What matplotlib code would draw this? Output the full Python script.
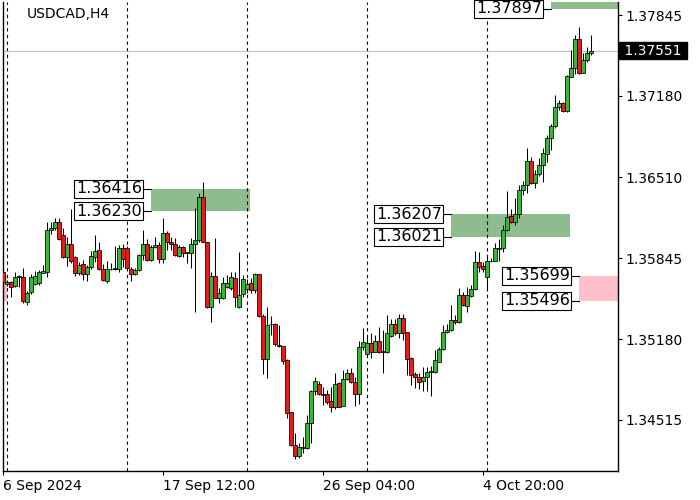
import matplotlib as mpl
mpl.use('Agg')
import matplotlib.pyplot as plt
import numpy as np

plt.rcParams['font.family'] = ['DejaVu Sans']

symbol = 'USDCAD,H4'

# H4 candles, one per bar
opens = [1.35732, 1.35633, 1.35647, 1.35614, 1.35691, 1.35691, 1.35485, 1.35565, 1.35635, 1.35644,
         1.35726, 1.35729, 1.36074, 1.36093, 1.36139, 1.36036, 1.35851, 1.35962, 1.35851, 1.35723,
         1.35801, 1.35715, 1.35773, 1.35859, 1.35910, 1.35759, 1.35658, 1.35760, 1.35760, 1.35760,
         1.35929, 1.35929, 1.35760, 1.35715, 1.35744, 1.35871, 1.35958, 1.35830, 1.35935, 1.35954,
         1.35836, 1.36050, 1.35981, 1.35959, 1.35863, 1.35940, 1.35890, 1.35890, 1.35959, 1.35995,
         1.36351, 1.35976, 1.35446, 1.35696, 1.35520, 1.35515, 1.35606, 1.35603, 1.35680, 1.35446,
         1.35551, 1.35589, 1.35639, 1.35580, 1.35715, 1.35372, 1.35014, 1.35300, 1.35302, 1.35131,
         1.35123, 1.35006, 1.34578, 1.34309, 1.34221, 1.34285, 1.34282, 1.34488, 1.34753, 1.34808,
         1.34726, 1.34726, 1.34671, 1.34624, 1.34816, 1.34632, 1.34852, 1.34899, 1.34830, 1.34726,
         1.35113, 1.35055, 1.35145, 1.35076, 1.35164, 1.35080, 1.35071, 1.35208, 1.35300, 1.35228,
         1.35357, 1.35236, 1.35022, 1.34891, 1.34871, 1.34835, 1.34871, 1.34907, 1.34907, 1.34994,
         1.35099, 1.35241, 1.35252, 1.35337, 1.35318, 1.35542, 1.35455, 1.35537, 1.35592, 1.35811,
         1.35781, 1.35688, 1.35818, 1.35825, 1.35921, 1.35926, 1.36077, 1.36195, 1.36140, 1.36206,
         1.36406, 1.36447, 1.36644, 1.36461, 1.36535, 1.36611, 1.36699, 1.36831, 1.36932, 1.37086,
         1.37119, 1.37058, 1.37337, 1.37406, 1.37645, 1.37370, 1.37475, 1.37530]
highs = [1.35773, 1.35666, 1.35654, 1.35729, 1.35707, 1.35764, 1.35575, 1.35718, 1.35740, 1.35748,
         1.35789, 1.36145, 1.36143, 1.36176, 1.36172, 1.36093, 1.36019, 1.36250, 1.35863, 1.35814,
         1.35830, 1.35789, 1.35904, 1.36032, 1.35981, 1.35797, 1.35826, 1.35806, 1.35945, 1.35954,
         1.35962, 1.35945, 1.35773, 1.35764, 1.35880, 1.36077, 1.36003, 1.35954, 1.36019, 1.35981,
         1.36172, 1.36065, 1.36019, 1.36011, 1.35954, 1.35945, 1.35899, 1.36009, 1.36254, 1.36379,
         1.36474, 1.35981, 1.35732, 1.36009, 1.35598, 1.35693, 1.35707, 1.35729, 1.35734, 1.35894,
         1.35707, 1.35674, 1.35682, 1.35723, 1.35719, 1.35390, 1.35444, 1.35370, 1.35312, 1.35296,
         1.35127, 1.35014, 1.34583, 1.34408, 1.34323, 1.34375, 1.34556, 1.34761, 1.34866, 1.34838,
         1.34786, 1.34761, 1.34784, 1.34899, 1.34830, 1.34926, 1.34932, 1.34940, 1.34871, 1.35160,
         1.35269, 1.35197, 1.35228, 1.35214, 1.35282, 1.35255, 1.35382, 1.35341, 1.35349, 1.35390,
         1.35390, 1.35241, 1.35029, 1.34912, 1.34897, 1.34951, 1.34951, 1.34959, 1.35090, 1.35117,
         1.35296, 1.35302, 1.35460, 1.35378, 1.35603, 1.35570, 1.35611, 1.35625, 1.35904, 1.35899,
         1.35814, 1.35871, 1.35847, 1.35970, 1.36007, 1.36118, 1.36400, 1.36250, 1.36338, 1.36447,
         1.36480, 1.36749, 1.36680, 1.36570, 1.36667, 1.36749, 1.36858, 1.36949, 1.37187, 1.37146,
         1.37132, 1.37351, 1.37557, 1.37680, 1.37749, 1.37530, 1.37584, 1.37680]
lows = [1.35584, 1.35616, 1.35526, 1.35608, 1.35608, 1.35473, 1.35460, 1.35553, 1.35625, 1.35625,
        1.35721, 1.35693, 1.36044, 1.36077, 1.35995, 1.35843, 1.35781, 1.35806, 1.35699, 1.35707,
        1.35666, 1.35658, 1.35756, 1.35814, 1.35752, 1.35658, 1.35641, 1.35748, 1.35748, 1.35732,
        1.35773, 1.35756, 1.35658, 1.35707, 1.35736, 1.35830, 1.35822, 1.35822, 1.35925, 1.35806,
        1.35806, 1.35913, 1.35913, 1.35863, 1.35851, 1.35857, 1.35806, 1.35764, 1.35403, 1.35981,
        1.35978, 1.35433, 1.35323, 1.35514, 1.35477, 1.35510, 1.35598, 1.35584, 1.35446, 1.35438,
        1.35529, 1.35561, 1.35561, 1.35559, 1.35364, 1.34893, 1.34860, 1.35210, 1.35123, 1.35115,
        1.34975, 1.34531, 1.34304, 1.34190, 1.34202, 1.34243, 1.34276, 1.34326, 1.34720, 1.34720,
        1.34638, 1.34646, 1.34581, 1.34605, 1.34622, 1.34630, 1.34844, 1.34816, 1.34632, 1.34646,
        1.35090, 1.35049, 1.35027, 1.35071, 1.35063, 1.34901, 1.35063, 1.35197, 1.35214, 1.35189,
        1.35173, 1.34885, 1.34803, 1.34778, 1.34770, 1.34753, 1.34753, 1.34712, 1.34899, 1.34989,
        1.35090, 1.35228, 1.35247, 1.35302, 1.35310, 1.35452, 1.35405, 1.35529, 1.35584, 1.35734,
        1.35732, 1.35584, 1.35814, 1.35822, 1.35826, 1.35899, 1.36071, 1.36135, 1.36118, 1.36173,
        1.36365, 1.36379, 1.36453, 1.36425, 1.36523, 1.36474, 1.36639, 1.36735, 1.36913, 1.37064,
        1.37050, 1.37050, 1.37337, 1.37357, 1.37357, 1.37370, 1.37461, 1.37516]
closes = [1.35649, 1.35649, 1.35612, 1.35693, 1.35699, 1.35489, 1.35559, 1.35688, 1.35699, 1.35729,
          1.35740, 1.36077, 1.36096, 1.36143, 1.36003, 1.35851, 1.35962, 1.35822, 1.35723, 1.35793,
          1.35719, 1.35769, 1.35863, 1.35908, 1.35760, 1.35666, 1.35756, 1.35758, 1.35764, 1.35929,
          1.35838, 1.35764, 1.35713, 1.35744, 1.35871, 1.35958, 1.35830, 1.35940, 1.35954, 1.35836,
          1.36050, 1.35976, 1.35959, 1.35871, 1.35940, 1.35885, 1.35894, 1.35959, 1.35995, 1.36351,
          1.35981, 1.35441, 1.35696, 1.35520, 1.35557, 1.35644, 1.35644, 1.35688, 1.35529, 1.35542,
          1.35674, 1.35633, 1.35584, 1.35715, 1.35372, 1.35016, 1.35296, 1.35304, 1.35137, 1.35119,
          1.34996, 1.34570, 1.34309, 1.34221, 1.34295, 1.34293, 1.34488, 1.34753, 1.34835, 1.34726,
          1.34720, 1.34660, 1.34624, 1.34808, 1.34624, 1.34852, 1.34899, 1.34830, 1.34726, 1.35115,
          1.35154, 1.35150, 1.35076, 1.35164, 1.35071, 1.35074, 1.35228, 1.35302, 1.35228, 1.35357,
          1.35230, 1.35020, 1.34885, 1.34871, 1.34831, 1.34871, 1.34912, 1.34920, 1.35008, 1.35096,
          1.35241, 1.35252, 1.35335, 1.35318, 1.35542, 1.35460, 1.35542, 1.35592, 1.35814, 1.35775,
          1.35754, 1.35822, 1.35826, 1.35933, 1.35929, 1.36077, 1.36181, 1.36140, 1.36209, 1.36406,
          1.36447, 1.36644, 1.36461, 1.36535, 1.36611, 1.36708, 1.36831, 1.36932, 1.37091, 1.37124,
          1.37058, 1.37343, 1.37406, 1.37645, 1.37370, 1.37475, 1.37530, 1.37551]

date_labels = ['6 Sep 2024', '17 Sep 12:00', '26 Sep 04:00', '4 Oct 20:00']
date_label_bars = [0, 40, 80, 120]
week_start_bars = [1, 31, 61, 91, 121]
price_ticks = [1.37845, 1.37180, 1.36510, 1.35845, 1.35180, 1.34515]
last_price = 1.37551

# supply / demand zones
zone_lows = [1.36230, 1.36021, 1.35496, 1.35496, 1.37897]
zone_highs = [1.36416, 1.36207, 1.35699, 1.35699, 1.37990]
zone_starts = [37, 112, 144, -2, 137]
zone_ends = [61.75, 141.75, 160, 0.95, 160]
zone_kinds = ['buy', 'buy', 'sell', 'sell', 'buy']

# levels with a price tag (tag sits left of the zone start)
level_prices = [1.36416, 1.36230, 1.36207, 1.36021, 1.35699, 1.35496, 1.37897]
level_starts = [37, 37, 112, 112, 144, 144, 137]

up_color = '#3cb43c'
down_color = '#e01e1e'
zone_colors = {'buy': '#8fbc8f', 'sell': '#ffc0cb'}

fig = plt.figure(figsize=(7, 5), dpi=100)
ax = fig.add_axes([2.5 / 700, 29 / 500, 615.5 / 700, 469 / 500])

o = np.array(opens)
h = np.array(highs)
l = np.array(lows)
c = np.array(closes)
x = np.arange(len(o))
up = c >= o

for lo, hi, x0, x1, kind in zip(zone_lows, zone_highs, zone_starts, zone_ends, zone_kinds):
    ax.fill_between([x0, x1], lo, hi, color=zone_colors[kind], lw=0, zorder=1)

for b in week_start_bars:
    ax.axvline(b, color='black', lw=0.8, ls=(0, (3, 3)), zorder=1.5)
ax.axhline(last_price, color='#c0c0c0', lw=0.8, zorder=1.6)

ax.vlines(x, l, h, color='black', lw=0.75, zorder=3)
ax.bar(x[up], (c - o)[up], bottom=o[up], width=0.8, color=up_color,
       edgecolor='black', linewidth=0.55, zorder=4)
ax.bar(x[~up], (o - c)[~up], bottom=c[~up], width=0.8, color=down_color,
       edgecolor='black', linewidth=0.55, zorder=4)

for p, s in zip(level_prices, level_starts):
    ax.plot([s - 1.9, s], [p, p], color='black', lw=0.8, zorder=5, clip_on=False)
    ax.text(s - 2.3, p, f'{p:.5f}', ha='right', va='center', fontsize=11.5, zorder=6,
            bbox=dict(boxstyle='square,pad=0.1', fc='white', ec='black', lw=0.8))

ax.text(0.04, 0.974, symbol, transform=ax.transAxes, fontsize=10, va='center', ha='left')

ax.set_xlim(-0.125, 153.75)
ax.set_ylim(1.34095, 1.37952)

ax.set_xticks(date_label_bars)
ax.set_xticklabels(date_labels, ha='left', fontsize=10)
ax.tick_params(axis='x', direction='out', length=3, width=0.8, pad=3)

ax.yaxis.tick_right()
ax.set_yticks(price_ticks)
ax.set_yticklabels([f'{p:.5f}' for p in price_ticks], fontsize=10)
ax.tick_params(axis='y', direction='out', length=3, width=0.8, pad=2)

ax.text(1.0035, last_price, ' %.5f ' % last_price, transform=ax.get_yaxis_transform(),
        ha='left', va='center', fontsize=10, color='white',
        bbox=dict(boxstyle='square,pad=0.1', fc='black', ec='black'))

for sp in ax.spines.values():
    sp.set_color('black')
    sp.set_linewidth(1.0)
ax.spines['top'].set_visible(False)

fig.savefig('out.png', dpi=100)
